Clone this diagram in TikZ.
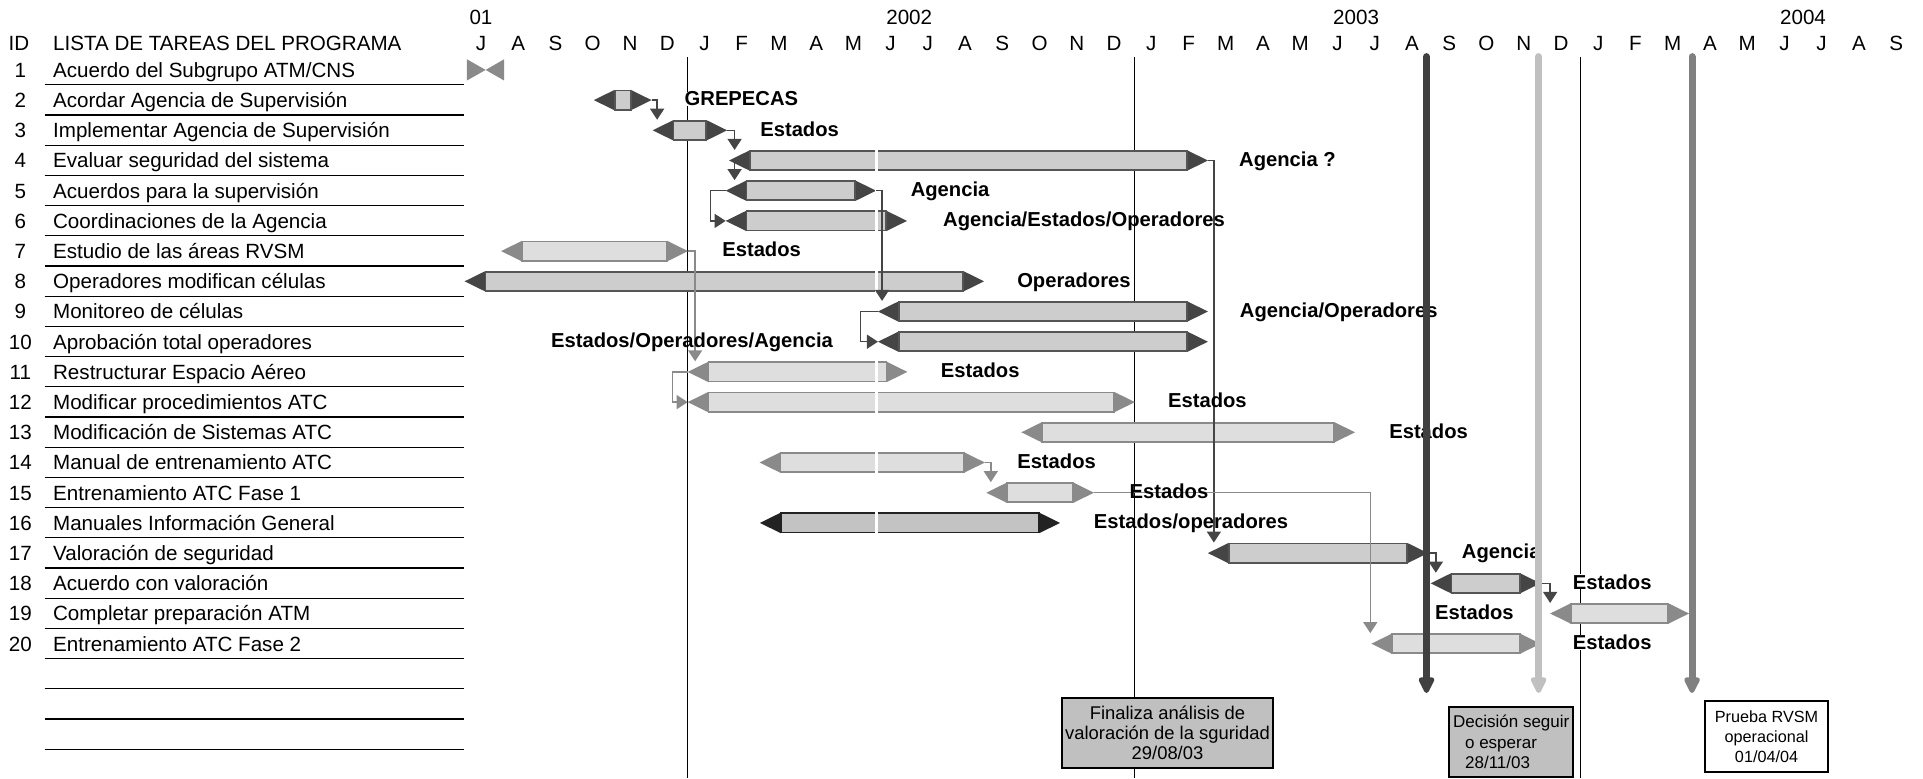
\documentclass[tikz,border=0pt]{standalone}
\usepackage{fontspec}
\setmainfont{Liberation Sans}
\usetikzlibrary{arrows.meta,positioning}
\definecolor{tipdark}{HTML}{454545}
\definecolor{bodydark}{HTML}{CDCDCD}
\definecolor{edgedark}{HTML}{555555}
\definecolor{tiplight}{HTML}{8A8A8A}
\definecolor{bodylight}{HTML}{DEDEDE}
\definecolor{tipblack}{HTML}{222222}
\definecolor{bodyblack}{HTML}{C3C3C3}
\definecolor{boxgray}{HTML}{C0C0C0}
\definecolor{miledark}{HTML}{404040}
\definecolor{milelight}{HTML}{C0C0C0}
\definecolor{milemid}{HTML}{808080}

\newcommand{\listfont}{\fontsize{10.3}{12}\selectfont}
\newcommand{\ganttbar}[5]{%
  \fill[#5tip] (#3,#2-0.34) -- (#3-0.56,#2) -- (#3,#2+0.34) -- cycle;
  \fill[#5tip] (#4,#2-0.34) -- (#4+0.56,#2) -- (#4,#2+0.34) -- cycle;
  \draw[#5body] (#3,#2-0.32) rectangle (#4,#2+0.32);
  \coordinate (#1l) at (#3-0.56,#2);
  \coordinate (#1r) at (#4+0.56,#2);
  \coordinate (#1t) at (#3,#2-0.35);}

\tikzset{tasktext/.style = {anchor=base west, inner sep=0pt, font=\listfont},
	headtext/.style = {anchor=base, inner sep=0pt, font=\listfont},
	who/.style = {anchor=base west, inner sep=0pt, font=\fontsize{10.1}{12}\selectfont\bfseries},
	darktip/.style = {fill=tipdark},
	darkbody/.style = {draw=edgedark, fill=bodydark, line width=0.9pt},
	lighttip/.style = {fill=tiplight},
	lightbody/.style = {draw=tiplight, fill=bodylight, line width=0.9pt},
	blacktip/.style = {fill=tipblack},
	blackbody/.style = {draw=tipblack, fill=bodyblack, line width=0.9pt},
	dep/.style = {-{Triangle[width=7pt,length=5.5pt]}, draw=tipdark, line width=0.7pt},
	deplight/.style = {dep, draw=tiplight},
	yearline/.style = {black, line width=0.5pt},
	milestone/.style = {-{Triangle[width=8.5pt,length=9.5pt,round]}, line width=3.5pt, line cap=round},
	notebox/.style = {draw=black, line width=1pt, inner sep=1pt}}

\begin{document}
\begin{tikzpicture}[x=18.62pt, y=-15.1pt]
 \useasboundingbox (-12.916,-1.3146) rectangle (38.722,24.447);

 \node (yr01) at (0,-0.5) [headtext] {01};
 \node (yr02) at (11.5,-0.5) [headtext] {2002};
 \node (yr03) at (23.5,-0.5) [headtext] {2003};
 \node (yr04) at (35.5,-0.5) [headtext] {2004};
 \node (idhead) at (-12.41,0.345) [headtext] {ID};
 \node (listhead) at (-11.5,0.345) [tasktext] {LISTA DE TAREAS DEL PROGRAMA};
 \foreach \m [count=\i from 0] in {J,A,S,O,N,D,J,F,M,A,M,J,J,A,S,O,N,D,J,F,M,A,M,J,J,A,S,O,N,D,J,F,M,A,M,J,J,A,S}
  \node (mon\i) at (\i,0.345) [headtext] {\m};
 \foreach \t [count=\k] in {Acuerdo del Subgrupo ATM/CNS, Acordar Agencia de Supervisión,
   Implementar Agencia de Supervisión, Evaluar seguridad del sistema, Acuerdos para la supervisión,
   Coordinaciones de la Agencia, Estudio de las áreas RVSM, Operadores modifican células,
   Monitoreo de células, Aprobación total operadores, Restructurar Espacio Aéreo,
   Modificar procedimientos ATC, Modificación de Sistemas ATC, Manual de entrenamiento ATC,
   Entrenamiento ATC Fase 1, Manuales Información General, Valoración de seguridad,
   Acuerdo con valoración, Completar preparación ATM, Entrenamiento ATC Fase 2}
  {\node (id\k) at (-12.37,\k+0.245) [headtext] {\k};
   \node (task\k) at (-11.5,\k+0.245) [tasktext] {\t};}
 \foreach \k in {1,...,23}
  \draw[black, line width=0.6pt] (-11.72,\k+0.49) -- (-0.45,\k+0.49);

 \draw[yearline] (5.55,0.58) -- (5.55,24.447);
 \draw[yearline] (17.54,0.58) -- (17.54,24.447);
 \draw[yearline] (29.52,0.58) -- (29.52,24.447);

 \fill[tiplight] (-0.376,0.65) -- (0.126,1) -- (-0.376,1.35) -- cycle;
 \fill[tiplight] (0.618,0.65) -- (0.126,1) -- (0.618,1.35) -- cycle;
 \ganttbar{b2}{2}{3.59}{4.02}{dark}
 \ganttbar{b3}{3}{5.17}{6.05}{dark}
 \ganttbar{b4}{4}{7.22}{18.96}{dark}
 \ganttbar{b5}{5}{7.13}{10.05}{dark}
 \ganttbar{b6}{6}{7.13}{10.88}{dark}
 \ganttbar{b7}{7}{1.1}{5.0}{light}
 \ganttbar{b8}{8}{0.12}{12.95}{dark}
 \ganttbar{b9}{9}{11.22}{18.96}{dark}
 \ganttbar{b10}{10}{11.22}{18.96}{dark}
 \ganttbar{b11}{11}{6.11}{10.89}{light}
 \ganttbar{b12}{12}{6.11}{17.0}{light}
 \ganttbar{b13}{13}{15.07}{22.91}{light}
 \ganttbar{b14}{14}{8.04}{12.97}{light}
 \ganttbar{b15}{15}{14.13}{15.9}{light}
 \ganttbar{b16}{16}{8.05}{14.99}{black}
 \ganttbar{b17}{17}{20.08}{24.87}{dark}
 \ganttbar{b18}{18}{26.06}{27.89}{dark}
 \ganttbar{b19}{19}{29.27}{31.88}{light}
 \ganttbar{b20}{20}{24.47}{27.89}{light}
 \draw[white, line width=1.5pt] (10.63,3.5) -- (10.63,16.5);

 \draw[dep] (b2r) -- ++(0.15,0) coordinate (k2) -- (k2 |- b3t);
 \draw[dep] (b3r) -- ++(0.2,0) coordinate (k3) -- (k3 |- b4t);
 \draw[dep] (k3 |- b4l) -- (k3 |- b5t);
 \draw[dep] (b4r) -- ++(0.16,0) coordinate (k4) -- (k4 |- b17t);
 \draw[dep] (b5r) -- ++(0.16,0) coordinate (k5) -- (k5 |- b9t);
 \draw[dep] (b5l) -- ++(-0.4,0) |- (b6l);
 \draw[deplight] (b7r) -- ++(0.19,0) coordinate (k7) -- (k7 |- b11t);
 \draw[dep] (b9l) -- ++(-0.47,0) |- (b10l);
 \draw[deplight] (b11l) -- ++(-0.41,0) |- (b12l);
 \draw[deplight] (b14r) -- ++(0.16,0) coordinate (k14) -- (k14 |- b15t);
 \draw[deplight] (b15r) -- ++(7.42,0) coordinate (k15) -- (k15 |- b20t);
 \draw[dep] (b17r) -- ++(0.21,0) coordinate (k17) -- (k17 |- b18t);
 \draw[dep] (b18r) -- ++(0.26,0) coordinate (k18) -- (k18 |- b19t);

 \node (who2) at (5.46,2.19) [who, fill=white] {GREPECAS};
 \node (who3) at (7.49,3.19) [who] {Estados};
 \node (who4) at (20.35,4.19) [who] {Agencia ?};
 \node (who5) at (11.53,5.19) [who] {Agencia};
 \node (who6) at (12.40,6.19) [who] {Agencia/Estados/Operadores};
 \node (who7) at (6.47,7.19) [who] {Estados};
 \node (who8) at (14.39,8.19) [who] {Operadores};
 \node (who9) at (20.37,9.19) [who] {Agencia/Operadores};
 \node (who10) at (9.46,10.19) [who, anchor=base east] {Estados/Operadores/Agencia};
 \node (who11) at (12.34,11.19) [who] {Estados};
 \node (who12) at (18.44,12.19) [who] {Estados};
 \node (who13) at (24.38,13.19) [who] {Estados};
 \node (who14) at (14.39,14.19) [who] {Estados};
 \node (who15) at (17.41,15.19) [who] {Estados};
 \node (who16) at (16.45,16.19) [who] {Estados/operadores};
 \node (who17) at (26.33,17.19) [who] {Agencia};
 \node (who18) at (29.31,18.19) [who, fill=white] {Estados};
 \node (who19) at (25.61,19.19) [who] {Estados};
 \node (who20) at (29.31,20.19) [who, fill=white] {Estados};

 \coordinate (ms1) at (25.39,0.56);
 \coordinate (me1) at (25.39,21.63);
 \coordinate (ms2) at (28.40,0.56);
 \coordinate (me2) at (28.40,21.63);
 \coordinate (ms3) at (32.52,0.56);
 \coordinate (me3) at (32.52,21.63);
 \draw[milestone, miledark] (ms1) -- (me1);
 \draw[milestone, milelight] (ms2) -- (me2);
 \draw[milestone, milemid] (ms3) -- (me3);

 \node (note1) at (18.435,22.95) [notebox, fill=boxgray, minimum width=105.6pt, minimum height=34.7pt,
  align=center, font=\fontsize{9.2}{9.8}\selectfont] {Finaliza análisis de\\valoración de la sguridad\\29/08/03};
 \node (note2) at (27.665,23.25) [notebox, fill=boxgray, minimum width=62pt, minimum height=35pt,
  align=left, font=\fontsize{8.5}{10.4}\selectfont] {Decisión seguir\\\hspace*{6pt}o esperar\\\hspace*{6pt}28/11/03};
 \node (note3) at (34.52,23.07) [notebox, fill=white, line width=0.8pt, minimum width=61.4pt, minimum height=35.3pt,
  align=center, font=\fontsize{8.1}{10}\selectfont] {Prueba RVSM\\operacional\\01/04/04};

\end{tikzpicture}
\end{document}
